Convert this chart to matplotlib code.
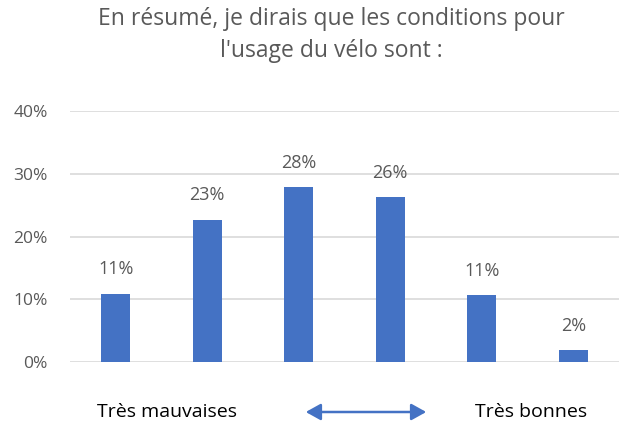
import numpy as np
import matplotlib.pyplot as plt
from matplotlib.patches import FancyArrowPatch

categories = ["1", "2", "3", "4", "5", "6"]
values = [10.9, 22.7, 27.9, 26.3, 10.7, 1.9]
labels = ["11%", "23%", "28%", "26%", "11%", "2%"]
yticks = [0, 10, 20, 30, 40]

title = "En résumé, je dirais que les conditions pour\nl'usage du vélo sont :"
left_label = "Très mauvaises"
right_label = "Très bonnes"

blue = "#4472C4"
text_col = "#595959"
plt.rcParams['font.family'] = ['Open Sans', 'DejaVu Sans']

W, H = 619, 423
fig = plt.figure(figsize=(W / 100, H / 100), dpi=100)
ax = fig.add_axes([70 / W, (H - 362) / H, 549 / W, 251 / H])

x = np.arange(len(categories))
ax.bar(x, values, width=0.32, color=blue, zorder=3)
for xi, v, lab in zip(x, values, labels):
    ax.annotate(lab, (xi, v), xytext=(0, 11), textcoords="offset points",
                ha="center", va="bottom", fontsize=13, color=text_col)

ax.set_xlim(-0.5, len(categories) - 0.5)
ax.set_ylim(0, 40)
ax.set_yticks(yticks)
ax.set_yticklabels([f"{t}%" for t in yticks], fontsize=12.5, color=text_col)
ax.set_xticks([])
ax.tick_params(axis="y", length=0, pad=16)
ax.grid(axis="y", color="#D9D9D9", linewidth=1.2, zorder=0)
for s in ax.spines.values():
    s.set_visible(False)

fig.text(331 / W, 1 - 35 / H, title, ha="center", va="center",
         fontsize=16.5, color=text_col, linespacing=1.4)

fig.text(167 / W, 1 - 412 / H, left_label, ha="center", va="center",
         fontsize=14, color="black")
fig.text(531 / W, 1 - 412 / H, right_label, ha="center", va="center",
         fontsize=14, color="black")
fig.add_artist(FancyArrowPatch(
    (303 / W, 1 - 412 / H), (429 / W, 1 - 412 / H),
    transform=fig.transFigure, arrowstyle="<|-|>,head_length=9,head_width=5",
    color=blue, linewidth=1.8))

fig.savefig("out.png", dpi=100, facecolor="white")
